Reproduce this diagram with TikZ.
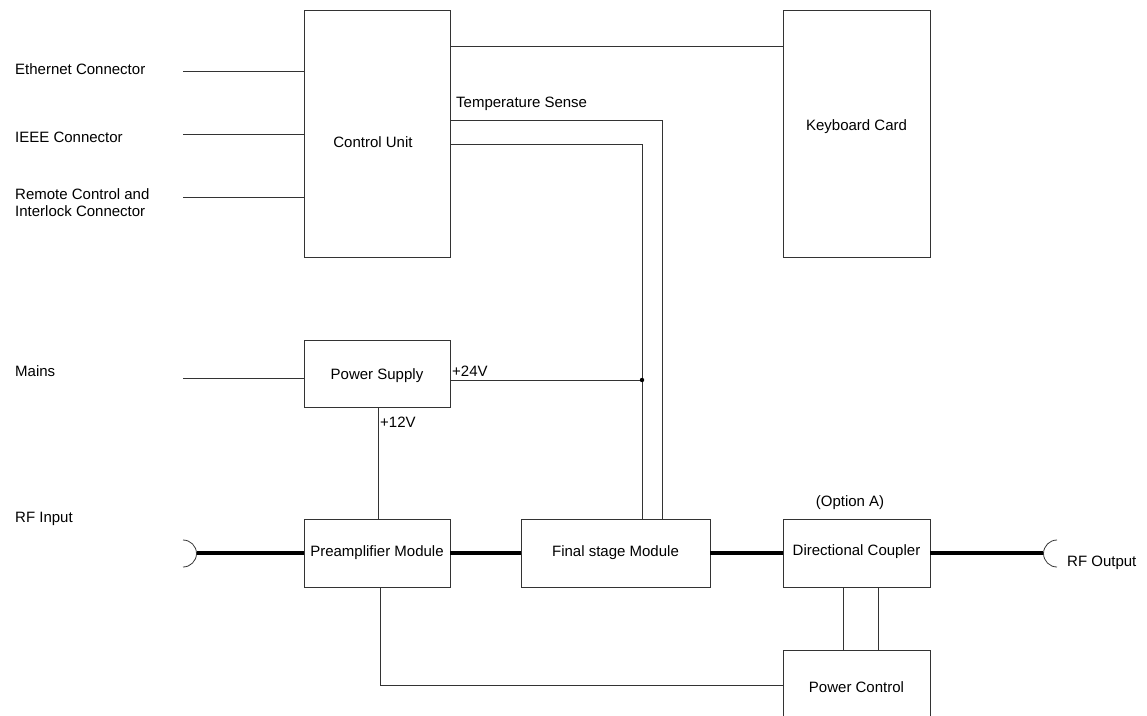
\documentclass[tikz,border=0pt]{standalone}
\usepackage{fontspec}
\setmainfont{Liberation Sans}
\begin{document}
\begin{tikzpicture}[x=1pt,y=-1pt,
  blk/.style={draw=black!80,line width=0.8pt,rectangle,inner sep=0pt},
  wire/.style={draw=black!80,line width=0.8pt},
  rf/.style={draw=black,line width=3.6pt},
  lbl/.style={font=\fontsize{15}{17}\selectfont,inner sep=0pt,align=left}]
\useasboundingbox (0,0) rectangle (1147,715);
\clip (0,0) rectangle (1147,715);
% blocks
\node[blk,minimum width=146pt,minimum height=247pt] (cu) at (377,133.5) {};
\node[blk,minimum width=147pt,minimum height=247pt] (kc) at (856.5,133.5) {};
\node[blk,minimum width=146pt,minimum height=67pt] (ps) at (377,373.5) {};
\node[blk,minimum width=146pt,minimum height=68pt] (pre) at (377,553) {};
\node[blk,minimum width=189pt,minimum height=68pt] (fin) at (615.5,553) {};
\node[blk,minimum width=147pt,minimum height=68pt] (dc) at (856.5,553) {};
\node[blk,minimum width=147pt,minimum height=74pt] (pc) at (856.5,687) {};
% block texts
\node[lbl] (tcu) at (373,142) {Control Unit};
\node[lbl] (tkc) at (856.5,127) {Keyboard Card};
\node[lbl] (tps) at (377,376) {Power Supply};
\node[lbl] (tpre) at (377,553) {Preamplifier Module};
\node[lbl] (tfin) at (615.5,553) {Final stage Module};
\node[lbl] (tdc) at (856.5,552) {Directional Coupler};
\node[lbl] (tpc) at (856.5,687) {Power Control};
% other labels
\node[lbl,anchor=west] (leth) at (15,69) {Ethernet Connector};
\node[lbl,anchor=west] (lieee) at (15,137) {IEEE Connector};
\node[lbl,anchor=west] (lrem) at (15,202.5) {Remote Control and\\Interlock Connector};
\node[lbl,anchor=west] (lmains) at (15,371) {Mains};
\node[lbl,anchor=west] (lrfin) at (15,519) {RF Input};
\node[lbl,anchor=west] (lrfout) at (1067,563) {RF Output};
\node[lbl,anchor=west] (ltemp) at (456,104) {Temperature Sense};
\node[lbl,anchor=west] (l24) at (452,371) {+24V};
\node[lbl,anchor=west] (l12) at (380,422) {+12V};
\node[lbl] (lopt) at (850,503) {(Option A)};
% free ends
\coordinate (eth) at (183,71);
\coordinate (ieee) at (183,134);
\coordinate (rem) at (183,197);
\coordinate (mains) at (183,378);
\coordinate (rfin) at (197,553);
\coordinate (rfout) at (1043,553);
\coordinate (jn) at (642,380);
% control lines
\draw[wire] (eth) -- (eth -| cu.west);
\draw[wire] (ieee) -- (ieee -| cu.west);
\draw[wire] (rem) -- (rem -| cu.west);
\draw[wire] (mains) -- (mains -| ps.west);
\draw[wire] (cu.east |- 0,46) -- (kc.west |- 0,46);
\draw[wire] (cu.east |- 0,120) -- (662,120) -- (662,0 |- fin.north);
\draw[wire] (cu.east |- 0,144) -- (642,144) -- (642,0 |- fin.north);
\draw[wire] (ps.east |- jn) -- (jn);
\fill (jn) circle (2.2pt);
\draw[wire] (378,0 |- ps.south) -- (378,0 |- pre.north);
\draw[wire] (380,0 |- pre.south) -- (380,685) -- (pc.west |- 0,685);
\draw[wire] (843,0 |- dc.south) -- (843,0 |- pc.north);
\draw[wire] (878,0 |- dc.south) -- (878,0 |- pc.north);
% RF chain
\draw[rf] (rfin) -- (pre.west);
\draw[rf] (pre.east) -- (fin.west);
\draw[rf] (fin.east) -- (dc.west);
\draw[rf] (dc.east) -- (rfout);
% connectors
\draw[wire] (183,540) arc[start angle=90,end angle=-90,radius=13.5pt];
\draw[wire] (1057,540) arc[start angle=90,end angle=270,radius=13.5pt];
\end{tikzpicture}
\end{document}
